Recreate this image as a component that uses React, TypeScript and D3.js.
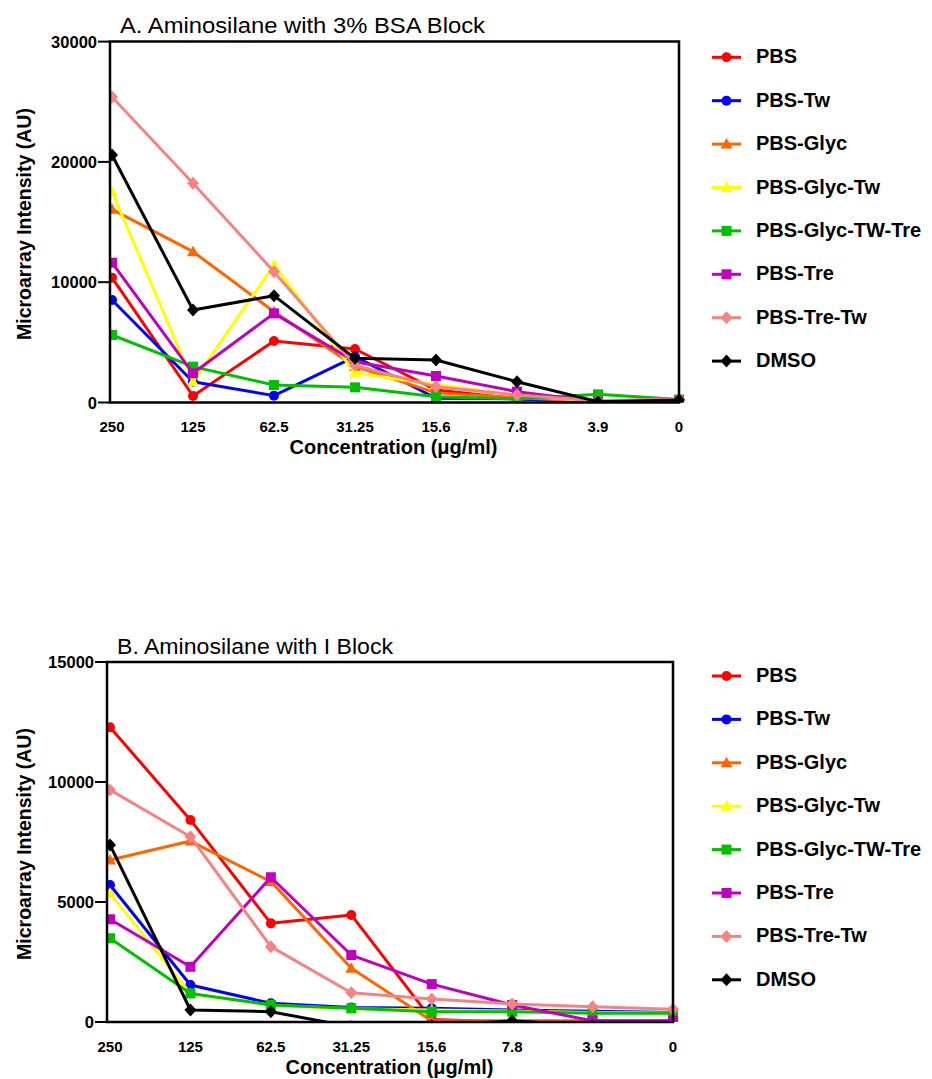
import React, { useEffect, useRef } from 'react';
import * as d3 from 'd3';

const concentrations = ['250', '125', '62.5', '31.25', '15.6', '7.8', '3.9', '0'];
const seriesNames = ['PBS', 'PBS-Tw', 'PBS-Glyc', 'PBS-Glyc-Tw', 'PBS-Glyc-TW-Tre', 'PBS-Tre', 'PBS-Tre-Tw', 'DMSO'];
const seriesColors = ['#ff0000', '#0000ff', '#ff6600', '#ffff00', '#00c000', '#c000c0', '#f48484', '#000000'];
const seriesShapes = ['circle', 'circle', 'triangle', 'triangle', 'square', 'square', 'diamond', 'diamond'];

// A. Aminosilane with 3% BSA Block
const bsaPBS = [10380, 540, 5110, 4450, 1040, 300, 50, 200];
const bsaPBSTw = [8520, 1730, 570, 3810, 350, 300, 100, 200];
const bsaPBSGlyc = [16060, 12540, 7550, 3000, 800, 400, 100, 200];
const bsaPBSGlycTw = [17520, 1730, 11430, 2450, 1500, 600, 100, 200];
const bsaPBSGlycTwTre = [5610, 2980, 1450, 1260, 480, 290, 680, 250];
const bsaPBSTre = [11620, 2430, 7410, 3390, 2200, 900, 70, 100];
const bsaPBSTreTw = [25400, 18220, 10870, 3100, 1300, 620, 150, 300];
const bsaDMSO = [20570, 7690, 8880, 3670, 3530, 1730, 70, 200];

// B. Aminosilane with I Block
const iPBS = [12280, 8420, 4110, 4460, 100, 0, 0, 0];
const iPBSTw = [5710, 1540, 780, 600, 570, 500, 450, 400];
const iPBSGlyc = [6750, 7540, 5850, 2240, 50, 50, 50, 50];
const iPBSGlycTw = [5360, 1190, 700, 550, 500, 460, 400, 380];
const iPBSGlycTwTre = [3490, 1190, 710, 570, 430, 430, 360, 360];
const iPBSTre = [4280, 2300, 6030, 2790, 1580, 710, 50, 50];
const iPBSTreTw = [9670, 7720, 3140, 1220, 960, 750, 640, 530];
const iDMSO = [7380, 500, 430, -200, -150, 50, -150, -300];

const bsaTicks = [0, 10000, 20000, 30000];
const iTicks = [0, 5000, 10000, 15000];

const font = 'Arial, "Liberation Sans", Helvetica, sans-serif';

function drawMarker(g, shape, x, y, color) {
  if (shape === 'circle') {
    g.append('circle').attr('cx', x).attr('cy', y).attr('r', 5).attr('fill', color);
  } else if (shape === 'square') {
    g.append('rect').attr('x', x - 5).attr('y', y - 5).attr('width', 10).attr('height', 10).attr('fill', color);
  } else if (shape === 'triangle') {
    g.append('path').attr('d', `M${x},${y - 6}L${x + 6},${y + 4.5}L${x - 6},${y + 4.5}Z`).attr('fill', color);
  } else {
    g.append('path').attr('d', `M${x},${y - 6.5}L${x + 6},${y}L${x},${y + 6.5}L${x - 6},${y}Z`).attr('fill', color);
  }
}

function Panel({ id, top, title, titleX, titleWidth, series, yMax, ticks, xLeft, xRight, axisX, yTop, yBottom }) {
  const ref = useRef(null);

  useEffect(() => {
    const g = d3.select(ref.current);
    g.selectAll('*').remove();

    const x = d3.scaleLinear().domain([0, concentrations.length - 1]).range([xLeft, xRight]);
    const y = d3.scaleLinear().domain([0, yMax]).range([yBottom, yTop]);

    g.append('text')
      .attr('x', titleX).attr('y', yTop - 8.5)
      .attr('font-family', font).attr('font-size', 21.5)
      .attr('textLength', titleWidth).attr('lengthAdjust', 'spacingAndGlyphs')
      .text(title);

    g.append('defs').append('clipPath').attr('id', id)
      .append('rect').attr('x', axisX).attr('y', yTop - 10)
      .attr('width', xRight - axisX + 10).attr('height', yBottom - yTop + 10);

    const plot = g.append('g').attr('clip-path', `url(#${id})`);
    const line = d3.line().x((d, i) => x(i)).y(d => y(d));

    series.forEach((vals, si) => {
      plot.append('path')
        .attr('d', line(vals))
        .attr('fill', 'none')
        .attr('stroke', seriesColors[si])
        .attr('stroke-width', 3)
        .attr('stroke-linejoin', 'round');
      vals.forEach((v, i) => drawMarker(plot, seriesShapes[si], x(i), y(v), seriesColors[si]));
    });

    // frame
    g.append('path')
      .attr('d', `M${axisX},${yTop}L${xRight},${yTop}L${xRight},${yBottom}L${axisX},${yBottom}Z`)
      .attr('fill', 'none').attr('stroke', '#000').attr('stroke-width', 2.5);

    ticks.forEach(t => {
      g.append('line')
        .attr('x1', axisX - 12).attr('x2', axisX).attr('y1', y(t)).attr('y2', y(t))
        .attr('stroke', '#000').attr('stroke-width', 2);
      g.append('text')
        .attr('x', axisX - 13).attr('y', y(t) + 6)
        .attr('text-anchor', 'end')
        .attr('font-family', font).attr('font-size', 16.5).attr('font-weight', 'bold')
        .text(d3.format('d')(t));
    });

    concentrations.forEach((c, i) => {
      g.append('text')
        .attr('x', x(i)).attr('y', yBottom + 29.5)
        .attr('text-anchor', 'middle')
        .attr('font-family', font).attr('font-size', 15).attr('font-weight', 'bold')
        .text(c);
    });

    g.append('text')
      .attr('x', (xLeft + xRight) / 2 - 2).attr('y', yBottom + 51.5)
      .attr('text-anchor', 'middle')
      .attr('font-family', font).attr('font-size', 20).attr('font-weight', 'bold')
      .text('Concentration (\u03bcg/ml)');

    g.append('text')
      .attr('transform', `translate(31,${(yTop + yBottom) / 2 + 2}) rotate(-90)`)
      .attr('text-anchor', 'middle')
      .attr('font-family', font).attr('font-size', 19.5).attr('font-weight', 'bold')
      .text('Microarray Intensity (AU)');

    // legend
    const legend = g.append('g');
    seriesNames.forEach((name, i) => {
      const ly = top + i * 43.4;
      legend.append('line')
        .attr('x1', 712).attr('x2', 741).attr('y1', ly).attr('y2', ly)
        .attr('stroke', seriesColors[i]).attr('stroke-width', 3);
      drawMarker(legend, seriesShapes[i], 726.5, ly, seriesColors[i]);
      legend.append('text')
        .attr('x', 756).attr('y', ly + 6)
        .attr('font-family', font).attr('font-size', 20).attr('font-weight', 'bold')
        .text(name);
    });
  }, []);

  return <g ref={ref} />;
}

export default function App() {
  return (
    <svg width={932} height={1079} style={{ position: 'absolute', left: 0, top: 0, background: '#fff' }}>
      <Panel
        id="clipA"
        top={57.3}
        title="A. Aminosilane with 3% BSA Block"
        titleX={120}
        titleWidth={365}
        series={[bsaPBS, bsaPBSTw, bsaPBSGlyc, bsaPBSGlycTw, bsaPBSGlycTwTre, bsaPBSTre, bsaPBSTreTw, bsaDMSO]}
        yMax={30000}
        ticks={bsaTicks}
        xLeft={112}
        xRight={679}
        axisX={110}
        yTop={41.6}
        yBottom={402.5}
      />
      <Panel
        id="clipB"
        top={676}
        title="B. Aminosilane with I Block"
        titleX={117}
        titleWidth={276}
        series={[iPBS, iPBSTw, iPBSGlyc, iPBSGlycTw, iPBSGlycTwTre, iPBSTre, iPBSTreTw, iDMSO]}
        yMax={15000}
        ticks={iTicks}
        xLeft={110}
        xRight={673}
        axisX={107}
        yTop={662}
        yBottom={1022}
      />
    </svg>
  );
}
